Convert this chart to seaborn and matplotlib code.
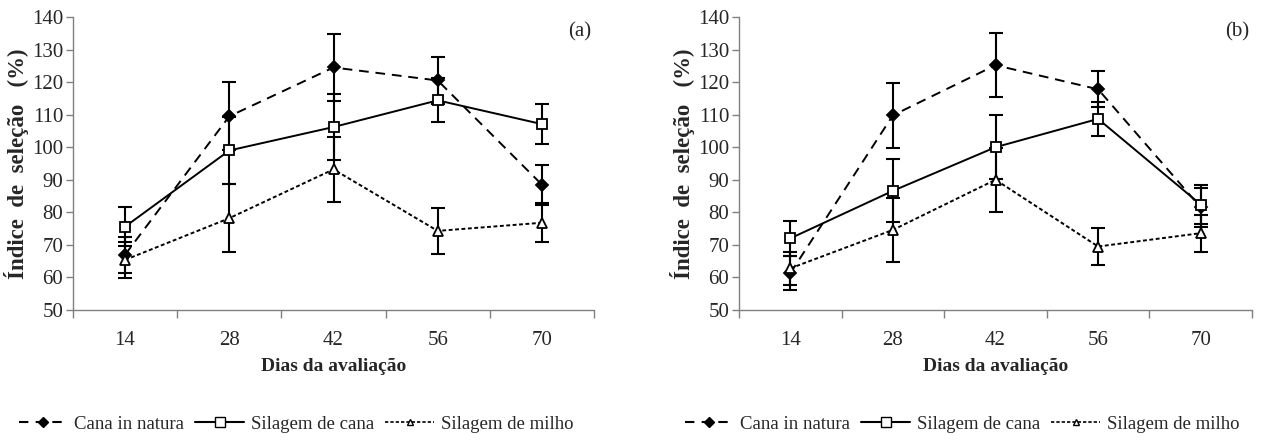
import numpy as np
import pandas as pd
import matplotlib.pyplot as plt
import seaborn as sns
from matplotlib.lines import Line2D
from matplotlib.ticker import FixedLocator

# Dados
dias = ["14", "28", "42", "56", "70"]
series = ["Cana in natura", "Silagem de cana", "Silagem de milho"]

# painel (a)
cana_a = [67.0, 109.5, 124.5, 120.5, 88.5]
cana_a_err = [5.5, 10.5, 10.3, 7.1, 6.1]
silcana_a = [75.6, 99.0, 106.2, 114.4, 107.1]
silcana_a_err = [5.9, 10.3, 10.0, 6.8, 6.2]
milho_a = [65.4, 78.2, 93.2, 74.3, 76.8]
milho_a_err = [5.5, 10.5, 9.9, 7.0, 6.0]

# painel (b)
cana_b = [61.3, 109.8, 125.2, 117.8, 81.5]
cana_b_err = [5.2, 10.0, 9.8, 5.5, 6.0]
silcana_b = [72.0, 86.6, 100.0, 108.7, 82.4]
silcana_b_err = [5.3, 9.7, 9.8, 5.2, 6.0]
milho_b = [62.8, 74.6, 90.0, 69.5, 73.6]
milho_b_err = [5.0, 9.8, 9.8, 5.6, 5.7]

sns.set_style("ticks")
plt.rcParams['font.family'] = ['Liberation Serif', 'DejaVu Serif']

styles = {
    "Cana in natura": dict(marker="D", mfc="black", ms=6.5, ls=(0, (5, 3.5))),
    "Silagem de cana": dict(marker="s", mfc="white", ms=7.5, ls="-"),
    "Silagem de milho": dict(marker="^", mfc="white", ms=7, ls=(0, (2, 1.3))),
}


def draw_panel(ax, vals, errs, tag):
    for name, y, e in zip(series, vals, errs):
        ax.errorbar(dias, y, yerr=e, fmt="none", ecolor="black",
                    elinewidth=1.5, capsize=5, capthick=1.5, zorder=2)
    for name, y in zip(series, vals):
        df = pd.DataFrame({"Dias": dias, "Indice": y})
        st = styles[name]
        sns.lineplot(data=df, x="Dias", y="Indice", ax=ax, color="black",
                     linewidth=1.4, linestyle=st["ls"], marker=st["marker"],
                     markersize=st["ms"], markerfacecolor=st["mfc"],
                     markeredgecolor="black", markeredgewidth=1.3,
                     errorbar=None, sort=False, zorder=3)
    ax.set_xlim(-0.5, 4.5)
    ax.set_ylim(50, 140)
    ax.set_yticks(np.arange(50, 141, 10))
    ax.xaxis.set_minor_locator(FixedLocator(np.arange(-0.5, 4.6, 1)))
    ax.tick_params(axis="x", which="major", length=0, pad=15, labelsize=15)
    ax.tick_params(axis="x", which="minor", length=6, width=1, color="#808080")
    ax.tick_params(axis="y", length=5, width=1, color="#808080", labelsize=15, pad=2)
    for s in ["left", "bottom"]:
        ax.spines[s].set_color("#808080")
        ax.spines[s].set_linewidth(1)
    sns.despine(ax=ax)
    ax.set_xlabel("Dias da avaliação", fontsize=14, fontweight="bold", labelpad=6)
    ax.set_ylabel("Índice  de  seleção   (%)", fontsize=16.5, fontweight="bold", labelpad=2)
    ax.text(0.995, 0.983, tag, transform=ax.transAxes, ha="right", va="top", fontsize=15)


fig = plt.figure(figsize=(12.64, 4.41), dpi=100)
ax1 = fig.add_axes([73 / 1264, 131 / 441, 521 / 1264, 293 / 441])
ax2 = fig.add_axes([739 / 1264, 131 / 441, 513 / 1264, 293 / 441])

draw_panel(ax1, [cana_a, silcana_a, milho_a], [cana_a_err, silcana_a_err, milho_a_err], "(a)")
draw_panel(ax2, [cana_b, silcana_b, milho_b], [cana_b_err, silcana_b_err, milho_b_err], "(b)")

handles = [
    Line2D([], [], color="black", lw=1.5, ls=(0, (4.5, 3.5)), marker="D", ms=5, mfc="black"),
    Line2D([], [], color="black", lw=1.5, ls="-", marker="s", ms=7, mfc="white"),
    Line2D([], [], color="black", lw=1.2, ls=(0, (2, 1.2)), marker="^", ms=5, mfc="white"),
]
for cx in [296 / 1264, 962 / 1264]:
    fig.legend(handles, series, loc="center", bbox_to_anchor=(cx, 1 - 424 / 441),
               ncol=3, frameon=False, fontsize=13.5, handlelength=2.6,
               columnspacing=0.6, handletextpad=0.35, borderpad=0.1)

fig.savefig("out.png", dpi=100)
